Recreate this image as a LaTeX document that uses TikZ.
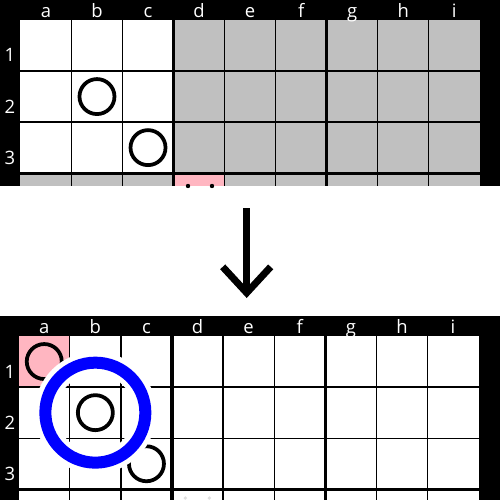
\documentclass[tikz,border=0pt]{standalone}
\usepackage{fontspec}
\newfontfamily\lblfont{Open Sans}
\usepackage{xcolor}
\usetikzlibrary{arrows.meta}

\definecolor{cellgray}{HTML}{C0C0C0}
\definecolor{cellpink}{HTML}{FFB6C1}

\begin{document}
\begin{tikzpicture}[x=0.2mm, y=-0.2mm,
  gridthin/.style={draw=black, line width=0.26mm},
  gridthick/.style={draw=black, line width=0.66mm},
  lbl/.style={text=white, font=\lblfont\fontsize{10.5}{11}\selectfont, inner sep=0pt, anchor=base},
  stone/.style={circle, draw=black, line width=0.75mm, inner sep=0pt, minimum size=7mm},
  halo/.style={circle, draw=white, line width=4.4mm, inner sep=0pt, minimum size=20mm},
  ring/.style={circle, draw=blue, line width=2.4mm, inner sep=0pt, minimum size=20mm},
  arrow/.style={line width=1.4mm, -{Straight Barb[length=5.2mm, width=9.6mm]}}]

\useasboundingbox (0,0) rectangle (500,500);

% top board
\fill[black] (0,0) rectangle (500,186);
\begin{scope}[shift={(20.4,20)}]
  \fill[cellgray] (0,0) rectangle (459.5,166);
  \fill[white] (0,0) rectangle (153.15,153.15);
  \fill[cellpink] (153.15,153.15) rectangle (204.2,166);
  \fill[black] (167.6,166) circle[radius=2.2];
  \fill[black] (191.6,166) circle[radius=2.2];
  \foreach \i in {1,2,4,5,7,8} \draw[gridthin] (\i*51.05,0) -- (\i*51.05,166);
  \foreach \i in {3,6} \draw[gridthick] (\i*51.05,0) -- (\i*51.05,166);
  \foreach \j in {1,2} \draw[gridthin] (0,\j*51.05) -- (459.5,\j*51.05);
  \draw[gridthick] (0,3*51.05) -- (459.5,3*51.05);
  \foreach \c [count=\i] in {a,b,c,d,e,f,g,h,i}
    \node[lbl] (top\c) at ({(\i-0.5)*51.05},-3) {\c};
  \foreach \r in {1,2,3}
    \node[lbl] (top\r) at (-10.4,{(\r-1)*51.05+42}) {\r};
  \node[stone] (topb2) at (1.5*51.05,1.5*51.05) {};
  \node[stone] (topc3) at (2.5*51.05,2.5*51.05) {};
\end{scope}

% arrow between boards
\coordinate (arrtop) at (246.7,208);
\coordinate (arrbot) at (246.7,298);
\draw[arrow] (arrtop) -- (arrbot);

% bottom board
\fill[black] (0,316) rectangle (500,500);
\begin{scope}[shift={(18.7,336)}]
  \fill[white] (0,0) rectangle (460,164);
  \fill[cellpink] (0,0) rectangle (51.1,51.1);
  \fill[gray!25] (166.6,162) circle[radius=1.8];
  \fill[gray!25] (190.6,162) circle[radius=1.8];
  \foreach \i in {1,2,4,5,7,8} \draw[gridthin] (\i*51.1,0) -- (\i*51.1,164);
  \foreach \i in {3,6} \draw[gridthick] (\i*51.1,0) -- (\i*51.1,164);
  \foreach \j in {1,2} \draw[gridthin] (0,\j*51.1) -- (460,\j*51.1);
  \draw[gridthick] (0,3*51.1) -- (460,3*51.1);
  \foreach \c [count=\i] in {a,b,c,d,e,f,g,h,i}
    \node[lbl] (bot\c) at ({(\i-0.5)*51.1},-3) {\c};
  \foreach \r in {1,2,3}
    \node[lbl] (bot\r) at (-8.7,{(\r-1)*51.1+42}) {\r};
  \node[stone] (bota1) at (0.5*51.1,0.5*51.1) {};
  \node[stone] (botb2) at (1.5*51.1,1.5*51.1) {};
  \node[stone] (botc3) at (2.5*51.1,2.5*51.1) {};
  \node[halo] (sel) at (botb2) {};
  \node[ring] (selring) at (botb2) {};
\end{scope}
\end{tikzpicture}
\end{document}
